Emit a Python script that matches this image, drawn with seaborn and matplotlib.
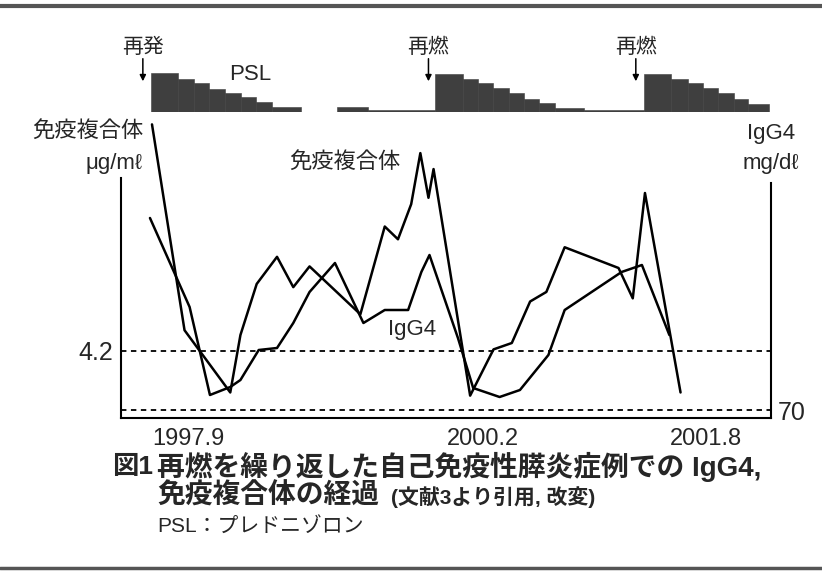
import numpy as np
import seaborn as sns
import matplotlib.pyplot as plt
from matplotlib.lines import Line2D

sns.set_style("white")
plt.rcParams['font.family'] = ['Liberation Sans', 'Noto Sans CJK JP', 'DejaVu Sans']

# time axis: approx. months from 1997.9
ic_t = [0.0, 3.2, 7.7, 8.7, 10.3, 12.3, 13.9, 15.5, 20.5, 22.9, 24.2, 25.5,
        26.4, 27.2, 27.7, 31.3, 33.6, 35.4, 37.2, 38.8, 40.6, 45.9, 47.3, 48.5, 52.0]
ic_val = [18.4, 5.5, 1.6, 5.2, 8.4, 10.1, 8.2, 9.5, 6.5, 12.0, 11.2, 13.4,
          16.6, 13.8, 15.6, 1.4, 4.3, 4.7, 7.3, 7.9, 10.7, 9.4, 7.5, 14.1, 1.6]  # ug/ml

igg4_t = [-0.2, 3.7, 5.7, 7.7, 8.7, 10.5, 12.3, 13.9, 15.5, 18.0, 20.8, 22.9,
          25.2, 26.5, 27.3, 30.1, 31.6, 34.2, 36.2, 39.0, 40.6, 46.2, 48.2, 50.9]
igg4_val = [1030, 585, 145, 185, 220, 370, 380, 505, 660, 805, 505, 570,
            570, 760, 845, 430, 180, 135, 170, 345, 570, 760, 795, 445]  # mg/dl

# prednisolone taper steps
psl_start = [-0.1, 2.6, 4.1, 5.6, 7.2, 8.8, 10.2, 11.8,
             18.2, 21.3,
             27.8, 30.6, 32.1, 33.5, 35.1, 36.6, 38.1, 39.6,
             42.5,
             48.4, 51.1, 52.7, 54.2, 55.7, 57.3, 58.6]
psl_end = [2.6, 4.1, 5.6, 7.2, 8.8, 10.2, 11.8, 14.7,
           21.3, 27.8,
           30.6, 32.1, 33.5, 35.1, 36.6, 38.1, 39.6, 42.5,
           48.4,
           51.1, 52.7, 54.2, 55.7, 57.3, 58.6, 60.7]
psl_dose = [40, 34, 30, 23, 19, 15, 9.5, 5,
            4.5, 1.2,
            39, 34, 30, 24, 19, 13, 9, 4,
            1.2,
            39, 34, 30, 24, 19, 13, 8]

relapse_t = [-0.9, 27.2, 47.6]
relapse_lab = ['再発', '再燃', '再燃']

date_ticks = [0, 29, 51]
date_labels = ['1997.9', '2000.2', '2001.8']

ic_cutoff = 4.2
igg4_cutoff = 70

W, H = 822, 578
def fx(px):
    return px / W
def fy(py):
    return 1 - py / H

fig = plt.figure(figsize=(W / 100, H / 100), dpi=100)

ax = fig.add_axes([fx(121), fy(418), 650 / W, 300 / H])
ax2 = ax.twinx()
ax.set_xlim(-3.05, 60.9)
ax.set_ylim(0, 18.8)
ax2.set_ylim(30, 1530)

sns.lineplot(x=ic_t, y=ic_val, ax=ax, color='black', lw=1.8, estimator=None)
sns.lineplot(x=igg4_t, y=igg4_val, ax=ax2, color='black', lw=1.8, estimator=None)

ax.axhline(ic_cutoff, color='black', lw=1.3, ls=(0, (3, 2.5)))
ax2.axhline(igg4_cutoff, color='black', lw=1.3, ls=(0, (3, 2.5)))

for s in ['top', 'right']:
    ax.spines[s].set_visible(False)
for s in ['top', 'left', 'bottom']:
    ax2.spines[s].set_visible(False)
ax.spines['left'].set_bounds(0, 15.05)
ax2.spines['right'].set_bounds(30, 1205)
for sp in [ax.spines['left'], ax.spines['bottom'], ax2.spines['right']]:
    sp.set_linewidth(1.5)
    sp.set_color('black')

ax.set_yticks([ic_cutoff], ['4.2'])
ax.tick_params(axis='y', length=0, pad=6, labelsize=18)
ax2.set_yticks([igg4_cutoff], ['70'])
ax2.tick_params(axis='y', length=0, pad=5, labelsize=18)
ax.set_xticks(date_ticks, date_labels)
ax.tick_params(axis='x', length=0, pad=7, labelsize=17)
plt.setp(ax.get_xticklabels(), ha='left')
ax.set_xlabel('')
ax.set_ylabel('')
ax2.set_ylabel('')

# PSL dose strip
axp = fig.add_axes([fx(121), fy(111.5), 650 / W, 83.5 / H])
axp.bar(psl_start, psl_dose, width=np.subtract(psl_end, psl_start), align='edge',
        color='#3f3f3f', edgecolor='#3f3f3f', linewidth=0.4)
axp.set_xlim(-3.05, 60.9)
axp.set_ylim(0, 87)
axp.axis('off')
for t, lab in zip(relapse_t, relapse_lab):
    axp.annotate('', xy=(t, 31.5), xytext=(t, 55),
                 arrowprops=dict(arrowstyle='-|>', color='black', lw=1.1,
                                 mutation_scale=9, shrinkA=0, shrinkB=0))
    axp.text(t, 67, lab, ha='center', va='center', fontsize=15)
axp.text(9.7, 39, 'PSL', ha='center', va='center', fontsize=16)

# axis labels
fig.text(fx(88), fy(131), '免疫複合体', ha='center', va='center', fontsize=16)
fig.text(fx(143), fy(163), 'μg/mℓ', ha='right', va='center', fontsize=16)
fig.text(fx(345), fy(162), '免疫複合体', ha='center', va='center', fontsize=16)
fig.text(fx(412), fy(329), 'IgG4', ha='center', va='center', fontsize=16)
fig.text(fx(771), fy(134), 'IgG4', ha='center', va='center', fontsize=16)
fig.text(fx(771), fy(163), 'mg/dℓ', ha='center', va='center', fontsize=16)

# caption
fig.text(fx(112), fy(467), '図1', ha='left', va='center', fontsize=19, fontweight='bold')
fig.text(fx(157), fy(467), '再燃を繰り返した自己免疫性膵炎症例での IgG4,',
         ha='left', va='center', fontsize=20, fontweight='bold')
fig.text(fx(157), fy(496), '免疫複合体の経過', ha='left', va='center', fontsize=20, fontweight='bold')
fig.text(fx(391), fy(497), '(文献3より引用, 改変)', ha='left', va='center', fontsize=15, fontweight='bold')
fig.text(fx(157), fy(526), 'PSL：プレドニゾロン', ha='left', va='center', fontsize=15)

# scan border rules
fig.add_artist(Line2D([0, 1], [fy(6), fy(6)], color='#555555', lw=3))
fig.add_artist(Line2D([0, 1], [fy(568), fy(568)], color='#555555', lw=2.5))

fig.savefig('out.png', dpi=100)
